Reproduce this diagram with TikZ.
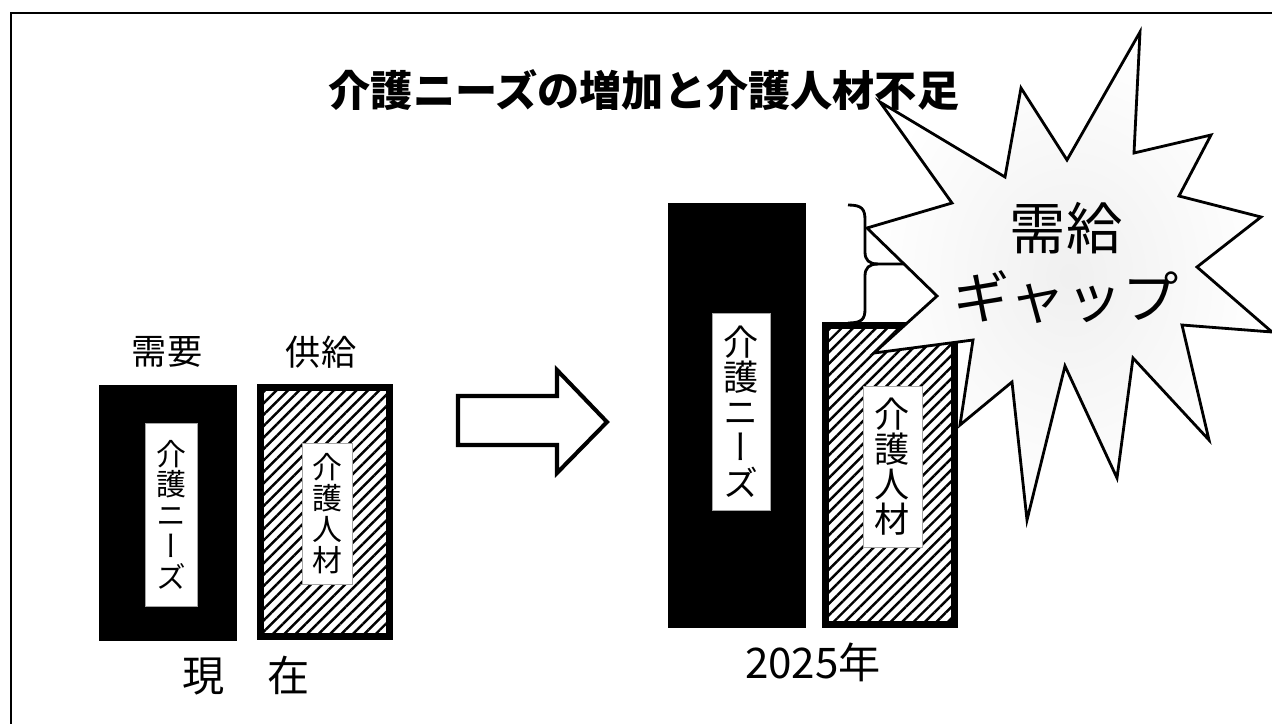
\documentclass[tikz,border=0pt]{standalone}
\usepackage{fontspec}
\setmainfont{Noto Sans CJK JP}
\newfontfamily\tate[RawFeature=+vert]{Noto Sans CJK JP}
\usetikzlibrary{patterns.meta}

\begin{document}
\begin{tikzpicture}[x=0.02cm, y=-0.02cm,
  demand/.style={fill=black, inner sep=0pt},
  supply/.style={draw=black, line width=4pt, inner sep=0pt,
    pattern={Lines[angle=45,distance=4.6pt,line width=1.4pt]}},
  tag/.style={fill=white, draw=gray!70, line width=0.3pt, inner sep=0pt,
    align=center, font=\tate\fontsize{17}{17.5}\selectfont},
  bigtag/.style={tag, font=\tate\fontsize{20}{20}\selectfont},
  caption/.style={font=\fontsize{24}{28}\selectfont},
  burst/.style={draw=black, line width=1.6pt, line join=miter,
    shading=radial, inner color=gray!12, outer color=white}]
  \useasboundingbox (0,0) rectangle (1272,724);
  \draw[line width=1.2pt] (1272,13) -- (11,13) -- (11,724);

  % now
  \node[font=\fontsize{20}{24}\selectfont] (needHead) at (167,352) {需要};
  \node[font=\fontsize{20}{24}\selectfont] (supplyHead) at (321,352) {供給};
  \node[demand, minimum width=2.76cm, minimum height=5.12cm] (needNow) at (168,513) {};
  \node[supply, minimum width=2.58cm, minimum height=4.98cm] (supplyNow) at (325,512) {};
  \node[tag, minimum width=1.04cm, minimum height=3.66cm] (needNowTag) at (171,514.5) {介\\護\\ニ\\ー\\ズ};
  \node[tag, minimum width=1.0cm, minimum height=2.82cm] (supplyNowTag) at (327,513.5) {介\\護\\人\\材};
  \node[caption] (now) at (246,676) {現　在};

  \draw[line width=2.3pt, line join=miter] (458,396) -- (557,396) -- (557,370) -- (607,422)
    -- (557,473) -- (557,445) -- (458,445) -- cycle;

  % 2025
  \node[demand, minimum width=2.76cm, minimum height=8.5cm] (needLater) at (737,415.5) {};
  \node[supply, minimum width=2.58cm, minimum height=5.98cm] (supplyLater) at (890,475) {};
  \node[bigtag, minimum width=1.16cm, minimum height=3.94cm] (needLaterTag) at (741,411.5) {介\\護\\ニ\\ー\\ズ};
  \node[bigtag, minimum width=1.18cm, minimum height=3.22cm] (supplyLaterTag) at (892.5,466.5) {介\\護\\人\\材};
  \node[caption] (later) at (813,662) {2025年};

  \draw[line width=1.6pt] (848,205) .. controls (862,205) and (865,209) .. (865,220) -- (865,252)
    .. controls (865,260) and (869,264) .. (878,264) -- (905,264);
  \draw[line width=1.6pt] (878,264) .. controls (869,264) and (865,268) .. (865,276) -- (865,309)
    .. controls (865,319) and (862,323) .. (848,323);

  \draw[burst] (880,102) -- (1005,177) -- (1021,88) -- (1067,160) -- (1140,32) -- (1134,153)
    -- (1211,135) -- (1179,196) -- (1261,217) -- (1197,267) -- (1272,332) -- (1182,325)
    -- (1209,440) -- (1133,358) -- (1117,478) -- (1065,366) -- (1027,520) -- (1012,382)
    -- (960,425) -- (973,340) -- (874,353) -- (937,296) -- (867,228) -- (952,203) -- cycle;
  \node[align=center, font=\fontsize{32}{39}\selectfont] (gap) at (1066,263) {需給\\ギャップ};

  \node[font=\bfseries\fontsize{24}{28}\selectfont] (title) at (644,90) {介護ニーズの増加と介護人材不足};
\end{tikzpicture}
\end{document}
